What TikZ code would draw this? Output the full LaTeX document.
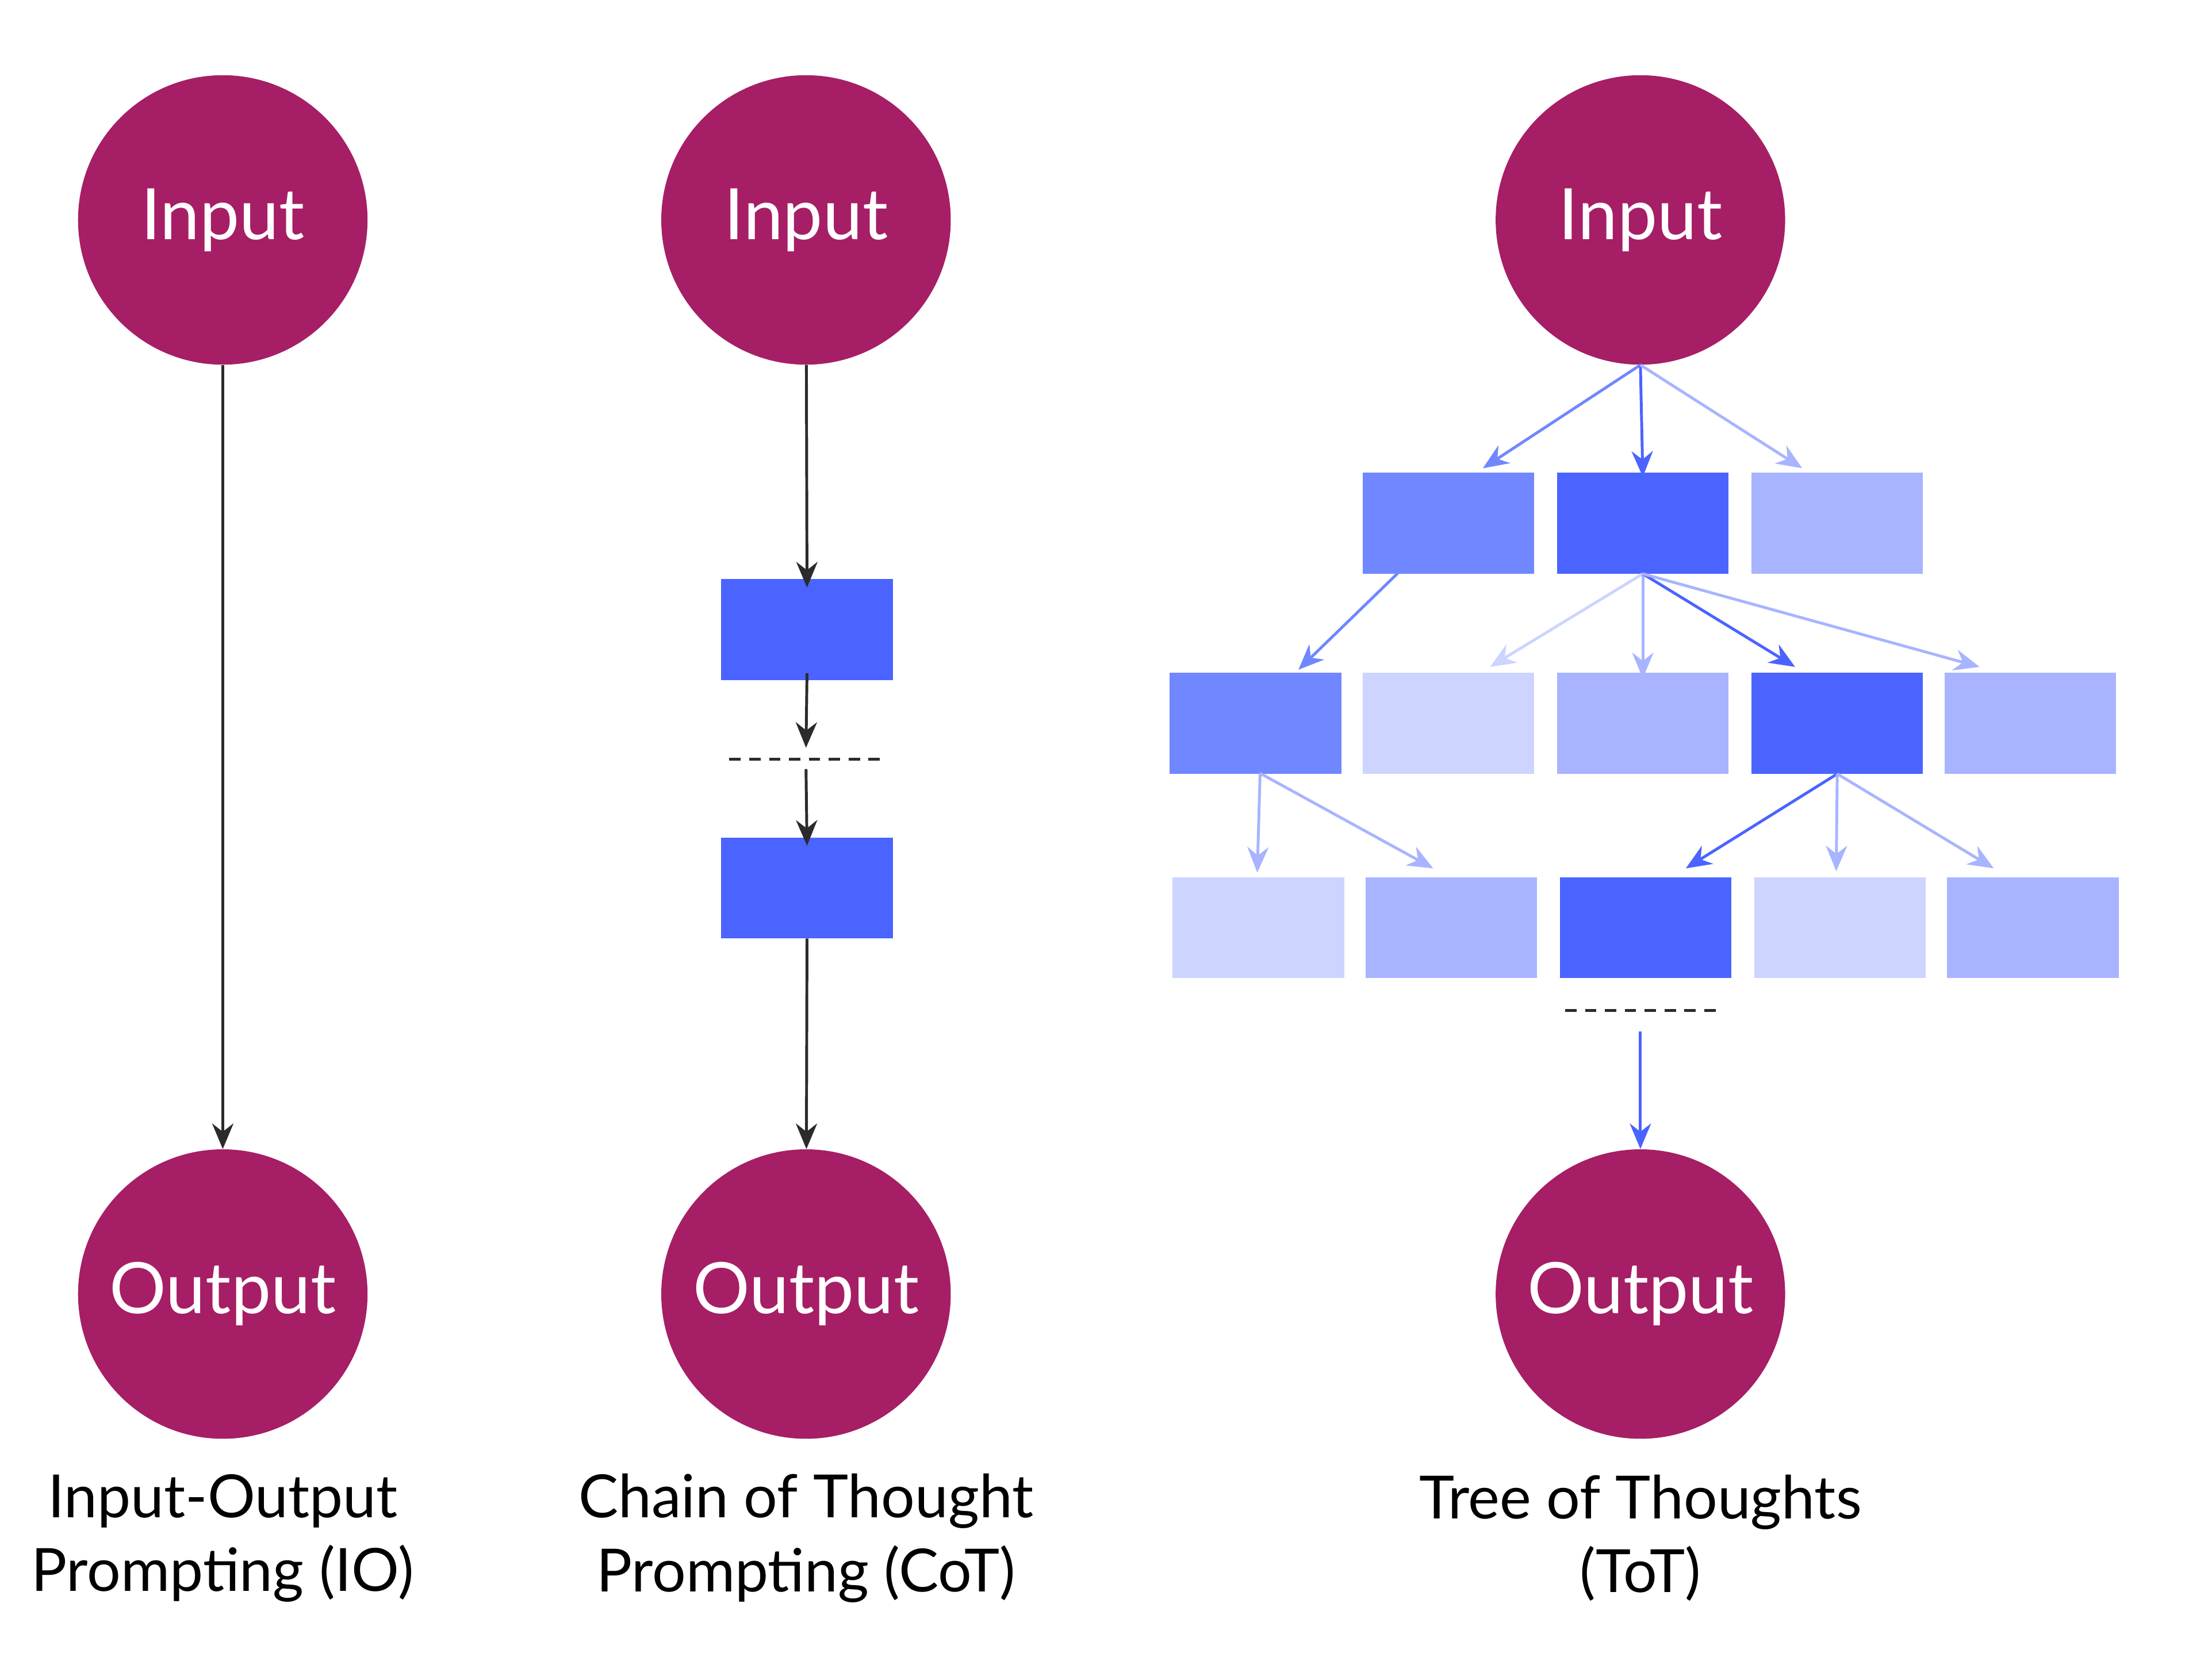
\documentclass[tikz,border=0pt]{standalone}
\usepackage{fontspec}
\setmainfont{Lato}
\usetikzlibrary{arrows.meta}
\definecolor{plum}{HTML}{A61E66}
\definecolor{bA}{HTML}{4B63FF}
\definecolor{bB}{HTML}{7087FF}
\definecolor{bC}{HTML}{A8B4FF}
\definecolor{bD}{HTML}{CCD4FF}
\definecolor{ink}{HTML}{2B2B2B}
\begin{document}
\begin{tikzpicture}[x=1pt,y=-1pt,
  circ/.style={circle,fill=plum,minimum size=204pt,inner sep=0pt,text=white,font=\fontsize{50}{50}\selectfont},
  box/.style={minimum width=121pt,minimum height=71pt,inner sep=0pt,anchor=north west},
  arr/.style={-{Stealth[length=18pt,width=15pt]},line width=2pt},
  lab/.style={align=center,font=\fontsize{42}{52}\selectfont},
  dashline/.style={line width=2pt,ink,dash pattern=on 8pt off 6pt}]
\useasboundingbox (0,0) rectangle (1556,1184);
% IO
\node[circ] (i1) at (157,155) {Input};
\node[circ] (o1) at (157,912) {Output};
\draw[arr,ink] (i1) -- (o1);
\node[lab] (l1) at (157,1084) {Input-Output\\Prompting (IO)};
% CoT
\node[circ] (i2) at (568,155) {Input};
\node[circ] (o2) at (568,912) {Output};
\node[box,fill=bA] (c1) at (508,408) {};
\node[box,fill=bA] (c2) at (508,590) {};
\coordinate (d1) at (514,535); \coordinate (d2) at (622,535);
\coordinate (da) at (568,527); \coordinate (db) at (568,542);
\draw[arr,ink] (i2) -- ([yshift=-6pt]c1.north);
\draw[arr,ink] ([yshift=5pt]c1.south) -- (da);
\draw[dashline] (d1) -- (d2);
\draw[arr,ink] (db) -- ([yshift=-6pt]c2.north);
\draw[arr,ink] (c2.south) -- (o2);
\node[lab] (l2) at (568,1084) {Chain of Thought\\Prompting (CoT)};
% ToT
\node[circ] (i3) at (1156,155) {Input};
\node[circ] (o3) at (1156,912) {Output};
\node[box,fill=bB] (a1) at (960,333) {};
\node[box,fill=bA] (a2) at (1097,333) {};
\node[box,fill=bC] (a3) at (1234,333) {};
\node[box,fill=bB] (b1) at (824,474) {};
\node[box,fill=bD] (b2) at (960,474) {};
\node[box,fill=bC] (b3) at (1097,474) {};
\node[box,fill=bA] (b4) at (1234,474) {};
\node[box,fill=bC] (b5) at (1370,474) {};
\node[box,fill=bD] (c31) at (826,618) {};
\node[box,fill=bC] (c32) at (962,618) {};
\node[box,fill=bA] (c33) at (1099,618) {};
\node[box,fill=bD] (c34) at (1236,618) {};
\node[box,fill=bC] (c35) at (1372,618) {};
\coordinate (t1) at (1045,330); \coordinate (t3) at (1270,330);
\draw[arr,bB] (i3.south) -- (t1);
\draw[arr,bA] (i3.south) -- ([yshift=-3pt]a2.north);
\draw[arr,bC] (i3.south) -- (t3);
\coordinate (s1) at (985,404);
\draw[arr,bB] (s1) -- (915,472);
\draw[arr,bD] (a2.south) -- (1050,470);
\draw[arr,bC] (a2.south) -- ([yshift=-4pt]b3.north);
\draw[arr,bA] (a2.south) -- (1265,470);
\draw[arr,bC] (a2.south) -- (1395,470);
\coordinate (s2) at (888,545);
\draw[arr,bC] (s2) -- (886,615);
\draw[arr,bC] (s2) -- (1010,612);
\draw[arr,bA] (b4.south) -- (1188,612);
\draw[arr,bC] (b4.south) -- (1294,614);
\draw[arr,bC] (b4.south) -- (1405,612);
\coordinate (e1) at (1103,712); \coordinate (e2) at (1212,712);
\draw[dashline] (e1) -- (e2);
\coordinate (e3) at (1156,727);
\draw[arr,bA] (e3) -- (o3);
\node[lab] (l3) at (1156,1084) {Tree of Thoughts\\(ToT)};
\end{tikzpicture}
\end{document}
